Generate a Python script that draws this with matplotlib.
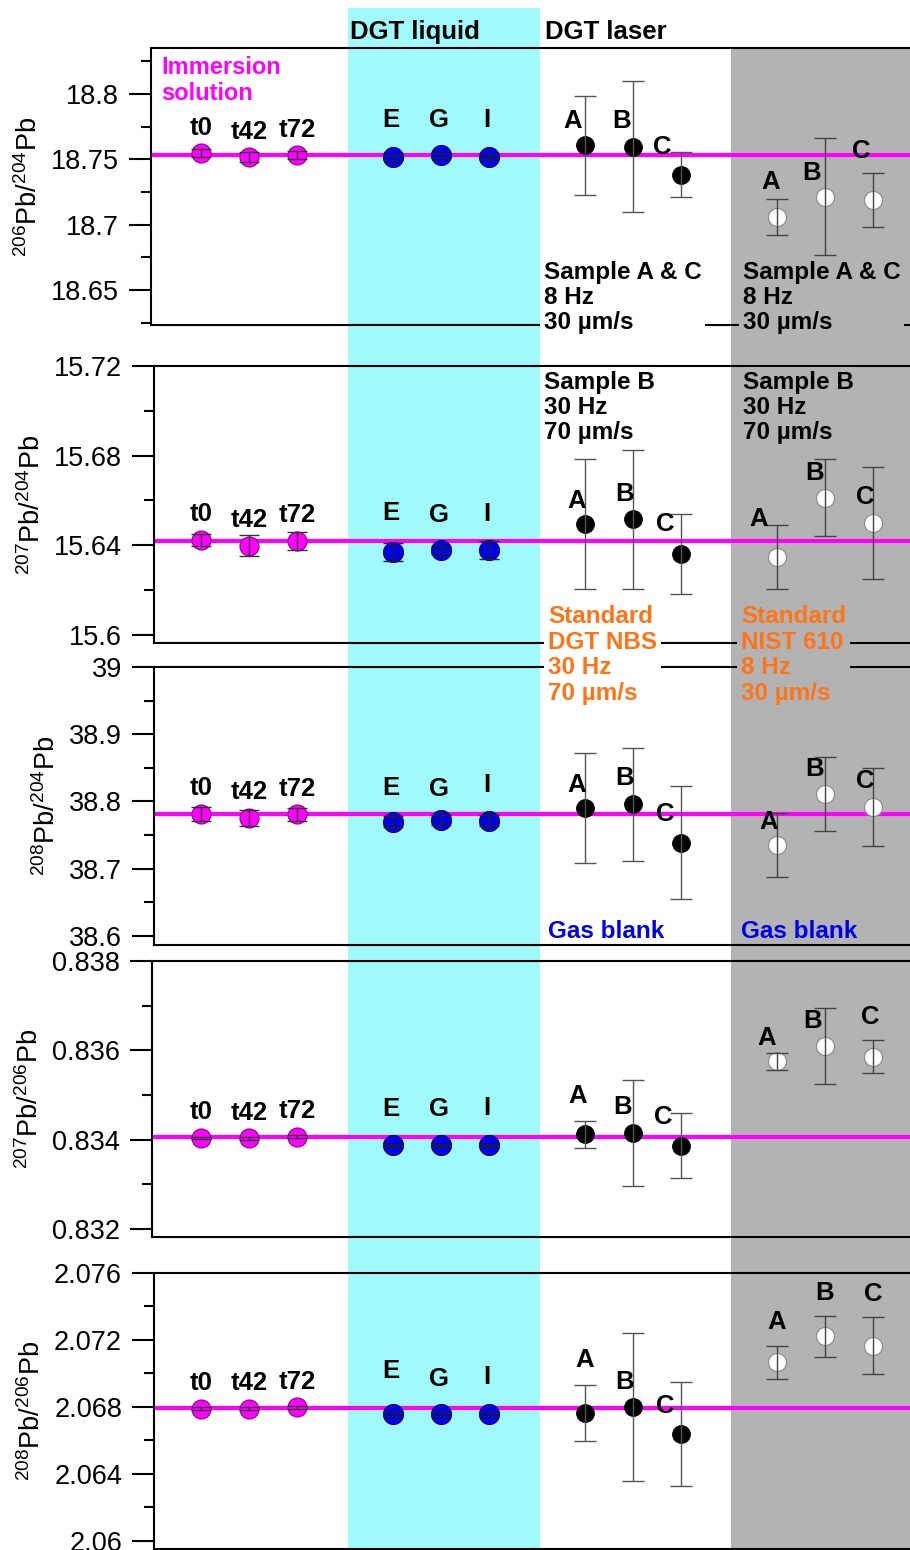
import numpy as np
import matplotlib
matplotlib.use("Agg")
import matplotlib.pyplot as plt
from matplotlib.ticker import MultipleLocator, FuncFormatter

plt.rcParams['font.family'] = ['Liberation Sans', 'DejaVu Sans']
plt.rcParams['mathtext.fontset'] = 'custom'
plt.rcParams['mathtext.rm'] = 'Liberation Sans'
plt.rcParams['mathtext.it'] = 'Liberation Sans'

# ---- data ----
imm_labels = ['t0', 't42', 't72']
liq_labels = ['E', 'G', 'I']
abc_labels = ['A', 'B', 'C']

ylabels = [r'$^{206}$Pb/$^{204}$Pb', r'$^{207}$Pb/$^{204}$Pb', r'$^{208}$Pb/$^{204}$Pb',
           r'$^{207}$Pb/$^{206}$Pb', r'$^{208}$Pb/$^{206}$Pb']

# immersion solution (t0, t42, t72)
imm = [[18.7546, 18.7516, 18.7533], [15.6424, 15.6399, 15.6420], [38.7816, 38.7760, 38.7810],
       [0.83404, 0.83403, 0.83407], [2.06789, 2.06789, 2.06797]]
imm_err = [[0.003, 0.004, 0.003], [0.0025, 0.0047, 0.004], [0.010, 0.012, 0.010],
           [0.00003, 0.00003, 0.00003], [0.0001, 0.0001, 0.0001]]
# DGT liquid (E, G, I)
liq = [[18.7516, 18.7531, 18.7520], [15.6370, 15.6379, 15.6380], [38.7700, 38.7726, 38.7716],
       [0.83388, 0.83388, 0.83388], [2.06759, 2.06759, 2.06759]]
liq_err = [[0.002, 0.002, 0.002], [0.004, 0.002, 0.0039], [0.008, 0.008, 0.008],
           [0.00003, 0.00003, 0.00003], [0.0001, 0.0001, 0.0001]]
# DGT laser, standard DGT NBS (A, B, C)
nbs = [[18.7607, 18.7597, 18.7383], [15.6494, 15.6516, 15.6361], [38.7900, 38.7960, 38.7384],
       [0.83412, 0.83415, 0.83386], [2.06763, 2.06800, 2.06640]]
nbs_err = [[0.038, 0.050, 0.017], [0.029, 0.031, 0.018], [0.082, 0.084, 0.084],
           [0.0003, 0.00118, 0.00073], [0.00168, 0.0044, 0.0031]]
# DGT laser, standard NIST 610 (A, B, C)
nist = [[18.7059, 18.7214, 18.7189], [15.6348, 15.6613, 15.6498], [38.7354, 38.8109, 38.7915],
        [0.83576, 0.83610, 0.83586], [2.07066, 2.07221, 2.07166]]
nist_err = [[0.0137, 0.045, 0.0205], [0.0144, 0.0172, 0.025], [0.048, 0.0555, 0.058],
            [0.00019, 0.00085, 0.00037], [0.001, 0.0012, 0.0017]]
# immersion solution reference line
ref = [18.753, 15.6419, 38.781, 0.83405, 2.06792]

# ---- layout (pixels) ----
W, H = 910, 1550
x0, step = 201, 48            # pixel of first point, pixels per x unit
panels = [(151, 48, 325, 18.6232, 18.8352, 0.05, 0.025),
          (154, 366, 643, 15.5964, 15.72, 0.04, 0.02),
          (154, 667, 945, 38.5866, 39.0, 0.1, 0.05),
          (152, 961, 1237, 0.83182, 0.838, 0.002, 0.001),
          (154, 1273, 1549, 2.05952, 2.076, 0.004, 0.002)]

# label offsets in pixels (dx, dy)
liq_dy = [[-37, -35, -37], [-39, -35, -36], [-34, -31, -36], [-36, -36, -37], [-43, -35, -37]]
nbs_off = [[(-12, -24), (-11, -26), (-19, -28)], [(-8, -23), (-8, -25), (-16, -30)],
           [(-8, -23), (-8, -26), (-16, -29)], [(-7, -38), (-10, -26), (-18, -29)],
           [(0, -53), (-8, -25), (-16, -28)]]
nist_off = [[(-6, -35), (-13, -24), (-12, -49)], [(-18, -38), (-10, -25), (-8, -26)],
            [(-8, -23), (-10, -25), (-8, -26)], [(-10, -23), (-12, -25), (-3, -40)],
            [(0, -40), (0, -43), (0, -52)]]

CYAN = '#a0fafa'
GRAY = '#b3b3b3'
MAG = '#ff00ff'
ORANGE = '#ff7417'
BLUE = '#0000e6'

fig = plt.figure(figsize=(W / 100, H / 100), dpi=100)

def fx(px):
    return px / W

def fy(py):
    return 1 - py / H

# background bands across the whole figure
bg = fig.add_axes([0, 0, 1, 1], zorder=-1)
bg.set_xlim((0 - x0) / step, (W - x0) / step)
bg.set_ylim(0, 1)
bg.axis('off')
bg.axvspan((348 - x0) / step, (540 - x0) / step, 0, fy(8), color=CYAN, lw=0)
bg.axvspan((731 - x0) / step, (W + 5 - x0) / step, 0, fy(48), color=GRAY, lw=0)

xi = np.array([0, 1, 2])
pt = 0.72  # points per pixel

for k, (left, top, bot, ylo, yhi, major, minor) in enumerate(panels):
    ax = fig.add_axes([fx(left), fy(bot), (W - left) / W, (bot - top) / H])
    ax.patch.set_visible(False)
    ax.set_xlim((left - x0) / step, (W - x0) / step)
    ax.set_ylim(ylo, yhi)
    ax.spines['right'].set_visible(False)
    for s in ['left', 'top', 'bottom']:
        ax.spines[s].set_linewidth(1.5)
    ax.set_xticks([])
    ax.yaxis.set_major_locator(MultipleLocator(major))
    ax.yaxis.set_minor_locator(MultipleLocator(minor))
    ax.yaxis.set_major_formatter(FuncFormatter(lambda v, p: f'{round(v, 6):g}'))
    ax.tick_params(axis='y', which='major', direction='out', length=16, width=1.5,
                   labelsize=19.5, pad=7)
    ax.tick_params(axis='y', which='minor', direction='out', length=7.5, width=1.5)
    ax.set_ylabel(ylabels[k], fontsize=19.5, labelpad=6)

    ax.axhline(ref[k], color=MAG, lw=3, zorder=2)

    groups = [(xi, imm[k], imm_err[k], MAG, '#8a008a', 13.7, '#333333', 7),
              (xi + 4, liq[k], liq_err[k], BLUE, '#000060', 14.4, '#222222', 7),
              (xi + 8, nbs[k], nbs_err[k], 'black', 'black', 12.7, '#555555', 8),
              (xi + 12, nist[k], nist_err[k], 'white', '#888888', 13, '#444444', 8)]
    for xs, ys, es, fc, ec, ms, errc, cs in groups:
        ax.plot(xs, ys, 'o', ms=ms, mfc=fc, mec=ec, mew=0.8, zorder=3)
        ax.errorbar(xs, ys, yerr=es, fmt='none', ecolor=errc, elinewidth=1,
                    capsize=cs, capthick=1, zorder=4)

    lab_kw = dict(textcoords='offset points', ha='center', va='center',
                  fontsize=18.5, fontweight='bold', zorder=5, annotation_clip=False)
    for i in range(3):
        ax.annotate(imm_labels[i], (xi[i], imm[k][i]), xytext=(0, 25.5 * pt), **lab_kw)
        ax.annotate(liq_labels[i], (xi[i] + 4, liq[k][i]),
                    xytext=(-2 * pt, -liq_dy[k][i] * pt), **lab_kw)
        dx, dy = nbs_off[k][i]
        ax.annotate(abc_labels[i], (xi[i] + 8, nbs[k][i]), xytext=(dx * pt, -dy * pt), **lab_kw)
        dx, dy = nist_off[k][i]
        ax.annotate(abc_labels[i], (xi[i] + 12, nist[k][i]), xytext=(dx * pt, -dy * pt), **lab_kw)

# ---- annotations ----
fig.text(fx(350), fy(32), 'DGT liquid', fontsize=18.5, fontweight='bold', va='center')
fig.text(fx(545), fy(32), 'DGT laser', fontsize=18.5, fontweight='bold', va='center')
fig.text(fx(161), fy(80.5), 'Immersion\nsolution', color=MAG, fontsize=17, fontweight='bold',
         va='center', linespacing=1.12)

def block(x, y, s, color, fc):
    fig.text(fx(x), fy(y), s, color=color, fontsize=17.5, fontweight='bold', va='center',
             linespacing=1.13, zorder=6,
             bbox=dict(boxstyle='square,pad=0.15', fc=fc, ec='none'))

block(544, 297.5, 'Sample A & C\n8 Hz\n30 µm/s', 'black', 'white')
block(743, 297.5, 'Sample A & C\n8 Hz\n30 µm/s', 'black', GRAY)
block(544, 407.5, 'Sample B\n30 Hz\n70 µm/s', 'black', 'white')
block(743, 407.5, 'Sample B\n30 Hz\n70 µm/s', 'black', GRAY)
block(548, 655, 'Standard\nDGT NBS\n30 Hz\n70 µm/s', ORANGE, 'white')
block(741, 655, 'Standard\nNIST 610\n8 Hz\n30 µm/s', ORANGE, GRAY)
fig.text(fx(548), fy(932), 'Gas blank', color=BLUE, fontsize=17.5, fontweight='bold', va='center')
fig.text(fx(741), fy(932), 'Gas blank', color=BLUE, fontsize=17.5, fontweight='bold', va='center')

fig.savefig('out.png', dpi=100)
